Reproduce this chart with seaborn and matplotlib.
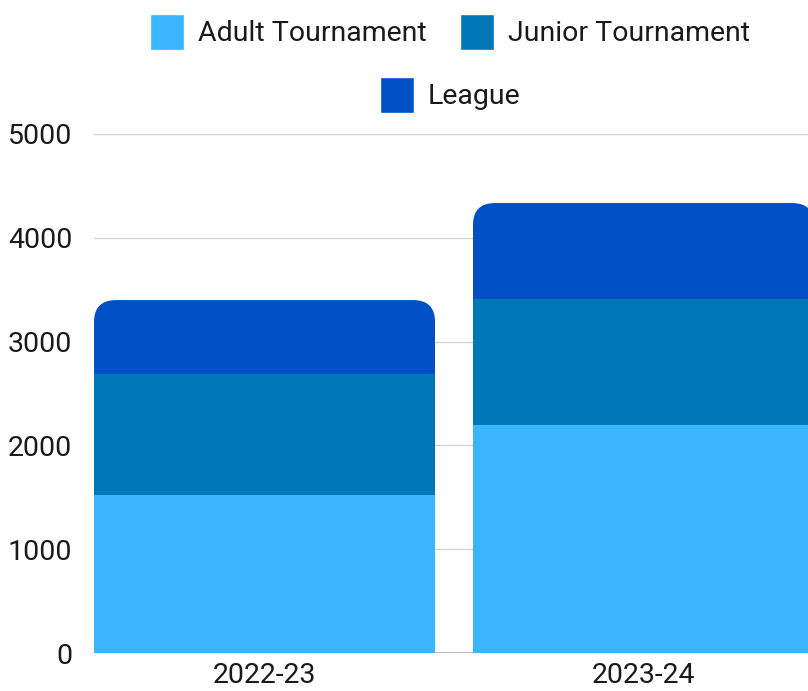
import numpy as np
import pandas as pd
import matplotlib
matplotlib.use("Agg")
import matplotlib.pyplot as plt
import seaborn as sns
from matplotlib.patches import Patch, FancyBboxPatch
from matplotlib.transforms import IdentityTransform

seasons = ["2022-23", "2023-24"]
adult = [1520, 2200]
junior = [1170, 1210]
league = [710, 925]
series_names = ["Adult Tournament", "Junior Tournament", "League"]
colors = ["#38B6FF", "#0077B6", "#0050C4"]
yticks = [0, 1000, 2000, 3000, 4000, 5000]

sns.set_style("white")
plt.rcParams["font.family"] = ["Roboto", "DejaVu Sans"]

W, H = 808, 691
fig = plt.figure(figsize=(W / 100, H / 100), dpi=100)
ax = fig.add_axes([94 / W, (H - 653) / H, (808 - 94) / W, (653 - 134) / H])

df = pd.DataFrame({"season": seasons, "adult": adult, "junior": junior, "league": league})
df["aj"] = df["adult"] + df["junior"]
df["total"] = df["aj"] + df["league"]

layers = [("total", colors[2]), ("aj", colors[1]), ("adult", colors[0])]
for i, (col, c) in enumerate(layers):
    sns.barplot(data=df, x="season", y=col, color=c, width=0.9, ax=ax,
                saturation=1, linewidth=0, zorder=2 + i)

fs = 20.5
ax.set_xlim(-0.45, 1.434)
ax.set_ylim(0, 5000)
ax.set_yticks(yticks)
ax.set_yticklabels([str(v) for v in yticks])
ax.set_xlabel("")
ax.set_ylabel("")
for s in ax.spines.values():
    s.set_visible(False)
for v in yticks[1:]:
    ax.axhline(v, color="#d6d6d6", lw=1, zorder=0)
ax.axhline(0, color="#b0b0b0", lw=1.2, zorder=1)
ax.tick_params(axis="y", length=0, pad=15.5, labelsize=fs, colors="#1a1a1a")
ax.tick_params(axis="x", length=0, pad=6.5, labelsize=fs, colors="#1a1a1a")

# rounded top corners for the stacked bars (clip the top layer)
fig.canvas.draw()
n = len(seasons)
top_patches = ax.patches[:n]
r = 22
for p in top_patches:
    bb = p.get_window_extent()
    clip = FancyBboxPatch((bb.x0, bb.y0 - 40), bb.width, bb.height + 40,
                          boxstyle=f"round,pad=0,rounding_size={r}",
                          transform=IdentityTransform(), facecolor="none")
    p.set_clip_path(clip)

hl, hh = 1.19, 1.57
h1 = [Patch(facecolor=colors[0]), Patch(facecolor=colors[1])]
leg1 = fig.legend(h1, series_names[:2], loc="center", bbox_to_anchor=(450 / W, 1 - 32 / H),
                  ncol=2, frameon=False, fontsize=fs, handlelength=hl, handleheight=hh,
                  handletextpad=0.49, columnspacing=1.2, borderpad=0, borderaxespad=0)
leg2 = fig.legend([Patch(facecolor=colors[2])], series_names[2:], loc="center",
                  bbox_to_anchor=(450 / W, 1 - 95 / H), frameon=False, fontsize=fs,
                  handlelength=hl, handleheight=hh, handletextpad=0.49,
                  borderpad=0, borderaxespad=0)
for lg in (leg1, leg2):
    for t in lg.get_texts():
        t.set_color("#1a1a1a")

fig.savefig("out.png", dpi=100)
